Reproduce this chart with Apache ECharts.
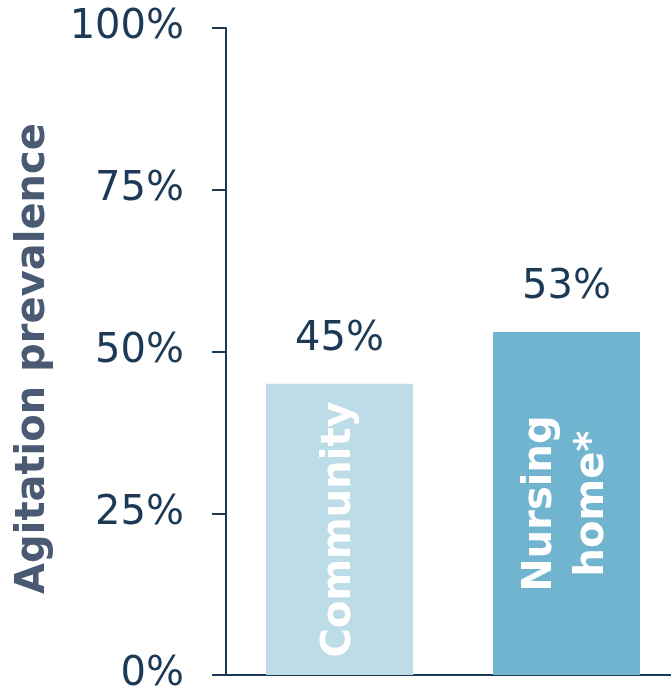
<!DOCTYPE html>
<html>
<head>
<meta charset="utf-8">
<script src="https://cdn.jsdelivr.net/npm/echarts@6/dist/echarts.min.js"></script>
<style>
  html, body { margin: 0; padding: 0; background: #fff; }
  #chart { width: 671px; height: 691px; }
</style>
</head>
<body>
<div id="chart"></div>
<script>
  const categories = ['Community', 'Nursing home*'];
  const prevalence = [45, 53];
  const yTicks = [0, 25, 50, 75, 100];

  const barColors = ['#bcdde7', '#70b4cf'];
  const ink = '#1c3a56';

  let chart = echarts.init(document.getElementById('chart'));

  let option = {
    animation: false,
    grid: {
      left: 226,
      top: 28,
      bottom: 16,
      right: -9,
      outerBoundsMode: 'none'
    },
    xAxis: {
      type: 'category',
      data: categories,
      axisLine: { lineStyle: { color: ink, width: 2 } },
      axisTick: { show: false },
      axisLabel: { show: false }
    },
    yAxis: {
      type: 'value',
      min: yTicks[0],
      max: yTicks[yTicks.length - 1],
      interval: 25,
      name: 'Agitation prevalence',
      nameLocation: 'middle',
      nameGap: 172,
      nameTextStyle: {
        fontFamily: 'DejaVu Sans',
        fontWeight: 'bold',
        fontSize: 40,
        color: '#4a5a73',
        padding: [0, 14, 0, 0]
      },
      axisLine: { show: true, lineStyle: { color: ink, width: 2 } },
      axisTick: { show: true, length: 14, lineStyle: { color: ink, width: 2 } },
      splitLine: { show: false },
      axisLabel: {
        margin: 42,
        formatter: '{value}%',
        fontFamily: 'DejaVu Sans',
        fontSize: 40,
        color: ink
      }
    },
    series: [
      {
        type: 'bar',
        barWidth: 147,
        data: prevalence.map((v, i) => ({
          value: v,
          itemStyle: { color: barColors[i] }
        })),
        label: {
          show: true,
          position: 'inside',
          rotate: 90,
          align: 'center',
          verticalAlign: 'middle',
          formatter: (p) => p.name.replace(' ', '\n'),
          fontFamily: 'DejaVu Sans',
          fontWeight: 'bold',
          fontSize: 40,
          lineHeight: 52,
          color: '#fff'
        }
      },
      {
        type: 'bar',
        barWidth: 147,
        barGap: '-100%',
        data: prevalence,
        itemStyle: { color: 'rgba(0,0,0,0)' },
        label: {
          show: true,
          position: 'top',
          distance: 24,
          formatter: '{c}%',
          fontFamily: 'DejaVu Sans',
          fontSize: 40,
          color: ink
        }
      }
    ]
  };

  chart.setOption(option);
</script>
</body>
</html>
